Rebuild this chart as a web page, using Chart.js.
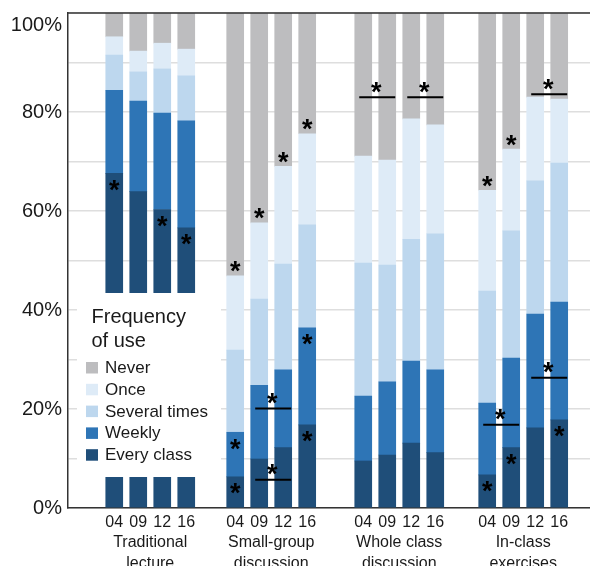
<!DOCTYPE html>
<html>
<head>
<meta charset="utf-8">
<script src="https://cdn.jsdelivr.net/npm/chart.js@4.4.1/dist/chart.umd.min.js"></script>
<style>
  html, body { margin: 0; padding: 0; background: #fff; }
  #wrap { width: 590px; height: 566px; position: relative; }
</style>
</head>
<body>
<div id="wrap"><canvas id="chart" width="590" height="566"></canvas></div>
<script>
// ---- data ---------------------------------------------------------------
const groups = [['Traditional', 'lecture'], ['Small-group', 'discussion'], ['Whole class', 'discussion'], ['In-class', 'exercises']];
const years = ['04', '09', '12', '16'];
const frequencies = ['Every class', 'Weekly', 'Several times', 'Once', 'Never'];

// percent of respondents per bar, four years for each teaching method
const everyClass   = [67.6, 63.9, 60.3, 56.6,   6.3,  9.9, 12.2, 16.8,   9.5, 10.7, 13.1, 11.2,   6.7, 12.2, 16.2, 17.8];
const weekly       = [16.8, 18.3, 19.5, 21.6,   9.0, 14.9, 15.7, 19.6,  13.1, 14.8, 16.6, 16.7,  14.5, 18.1, 23.0, 23.8];
const severalTimes = [ 7.1,  5.9,  8.9,  9.1,  16.6, 17.4, 21.4, 20.8,  26.9, 23.6, 24.6, 27.5,  22.6, 25.7, 26.9, 28.1];
const once         = [ 3.7,  4.2,  5.2,  5.4,  15.0, 15.4, 19.7, 18.4,  21.6, 21.2, 24.3, 22.0,  20.4, 16.5, 16.9, 12.9];
const never        = [ 4.8,  7.7,  6.1,  7.3,  53.1, 42.4, 31.0, 24.4,  28.9, 29.7, 21.4, 22.6,  35.8, 27.5, 17.0, 17.4];

const yTickLabels = [0, 20, 40, 60, 80, 100];

// significant single segments: [method, year, frequency index]
const starredSegments = [
  [0, 0, 0], [0, 2, 0], [0, 3, 0],
  [1, 0, 0], [1, 0, 1], [1, 0, 4], [1, 1, 4], [1, 2, 4], [1, 3, 0], [1, 3, 1], [1, 3, 4],
  [3, 0, 0], [3, 0, 4], [3, 1, 0], [3, 1, 4], [3, 3, 0]
];
// significant differences between two years: [method, first year, second year, level in %]
const comparisons = [
  [1, 1, 2, 20.1], [1, 1, 2, 5.7],
  [2, 0, 1, 83.0], [2, 2, 3, 83.0],
  [3, 2, 3, 83.6], [3, 0, 1, 16.8], [3, 2, 3, 26.3]
];

// ---- layout & style -----------------------------------------------------
const FONT = "'Liberation Sans', Arial, Helvetica, sans-serif";
const colors = ['#1f4e79', '#2e75b6', '#bdd7ee', '#deebf7', '#bdbdbf'];
const groupCenters = [0, 5.04, 10.375, 15.54];   // axis units, one unit between neighbouring bars
const seriesValues = [everyClass, weekly, severalTimes, once, never];

const positions = [];
groups.forEach((g, gi) => years.forEach((y, yi) => positions.push(groupCenters[gi] + yi - 1.5)));

const datasets = frequencies.map((label, i) => ({
  label,
  data: seriesValues[i].map((v, j) => ({ x: positions[j], y: v })),
  backgroundColor: colors[i],
  borderWidth: 0,
  barThickness: 17,
  stack: 'freq'
}));

function segmentBounds(bar, f) {
  let base = 0;
  for (let i = 0; i < f; i++) base += seriesValues[i][bar];
  return [base, base + seriesValues[f][bar]];
}

function drawStar(ctx, x, cy) {
  ctx.save();
  ctx.font = 'bold 27px ' + FONT;
  ctx.fillStyle = '#000';
  ctx.textAlign = 'center';
  ctx.textBaseline = 'alphabetic';
  const m = ctx.measureText('*');
  const inkMid = (m.actualBoundingBoxAscent - m.actualBoundingBoxDescent) / 2;
  ctx.fillText('*', x, cy + inkMid);
  ctx.restore();
}

const annotations = {
  id: 'annotations',
  afterDatasetsDraw(chart) {
    const { ctx, chartArea, scales: { x, y } } = chart;

    // frame line along the top of the plot
    ctx.save();
    ctx.strokeStyle = '#333';
    ctx.lineWidth = 1.5;
    ctx.beginPath();
    ctx.moveTo(chartArea.left, chartArea.top);
    ctx.lineTo(chartArea.right, chartArea.top);
    ctx.stroke();
    ctx.restore();

    // starred segments
    starredSegments.forEach(([g, yr, f]) => {
      const bar = g * 4 + yr;
      const [lo, hi] = segmentBounds(bar, f);
      const px = x.getPixelForValue(positions[bar]);
      if (f === frequencies.length - 1) drawStar(ctx, px, y.getPixelForValue(lo) - 9);
      else drawStar(ctx, px, y.getPixelForValue(hi) + 12);
    });

    // year-to-year comparisons
    comparisons.forEach(([g, a, b, level]) => {
      const xa = x.getPixelForValue(positions[g * 4 + a]);
      const xb = x.getPixelForValue(positions[g * 4 + b]);
      const py = y.getPixelForValue(level);
      ctx.save();
      ctx.strokeStyle = '#000';
      ctx.lineWidth = 2;
      ctx.beginPath();
      ctx.moveTo(xa - 4, py);
      ctx.lineTo(xb + 8, py);
      ctx.stroke();
      ctx.restore();
      drawStar(ctx, (xa + xb) / 2 + 1, py - 10);
    });

    // legend panel
    ctx.save();
    ctx.fillStyle = '#fff';
    ctx.fillRect(chartArea.left + 9, 293, 144, 184);
    ctx.fillStyle = '#1a1a1a';
    ctx.textAlign = 'left';
    ctx.textBaseline = 'alphabetic';
    ctx.font = '20px ' + FONT;
    ctx.fillText('Frequency', 91.5, 322.7);
    ctx.fillText('of use', 91.5, 346.7);
    ctx.font = '17px ' + FONT;
    const order = chart.data.datasets.slice().reverse();
    order.forEach((ds, i) => {
      const top = 362 + i * 21.8;
      ctx.fillStyle = ds.backgroundColor;
      ctx.fillRect(86, top, 12, 11.5);
      ctx.fillStyle = '#1a1a1a';
      ctx.fillText(ds.label, 105, top + 11);
    });

    // top value label sits just inside the frame
    ctx.font = '20px ' + FONT;
    ctx.textAlign = 'right';
    ctx.fillText('100%', chartArea.left - 6, chartArea.top + 18);

    // method names under the year labels
    ctx.font = '16px ' + FONT;
    ctx.textAlign = 'center';
    groups.forEach((lines, gi) => {
      const cx = x.getPixelForValue(groupCenters[gi]);
      ctx.fillText(lines[0], cx, 547);
      ctx.fillText(lines[1], cx, 567.5);
    });
    ctx.restore();
  }
};

new Chart(document.getElementById('chart'), {
  type: 'bar',
  data: { datasets },
  plugins: [annotations],
  options: {
    responsive: false,
    animation: false,
    layout: { padding: { top: 13, left: 0, right: 0, bottom: 0 } },
    plugins: { legend: { display: false }, tooltip: { enabled: false } },
    scales: {
      x: {
        type: 'linear',
        stacked: true,
        offset: false,
        min: -3.427,
        max: 18.323,
        grid: { display: false, drawTicks: false },
        border: { color: '#333', width: 1.5 },
        afterBuildTicks: s => { s.ticks = positions.map(v => ({ value: v })); },
        afterFit: s => { s.height = 58; s.paddingLeft = 0; s.paddingRight = 0; },
        ticks: {
          autoSkip: false,
          maxRotation: 0,
          padding: 5,
          color: '#1a1a1a',
          font: { size: 16, family: FONT },
          callback: (v, i) => years[i % years.length]
        }
      },
      y: {
        stacked: true,
        min: 0,
        max: 100,
        afterFit: s => { s.width = 68; s.paddingTop = 0; s.paddingBottom = 0; },
        grid: { color: '#dedede', lineWidth: 1.5, drawTicks: false },
        border: { color: '#333', width: 1.5 },
        ticks: {
          stepSize: 10,
          padding: 6,
          color: '#1a1a1a',
          font: { size: 20, family: FONT },
          callback: v => (yTickLabels.includes(v) && v !== 100) ? v + '%' : ''
        }
      }
    }
  }
});
</script>
</body>
</html>
